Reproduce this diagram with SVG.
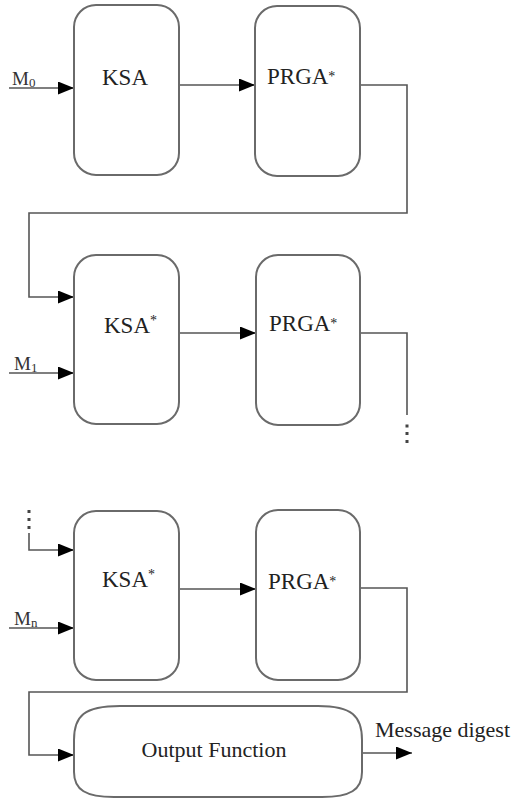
<svg xmlns="http://www.w3.org/2000/svg" width="515" height="801" viewBox="0 0 515 801">
  <defs>
    <marker id="arrow" markerUnits="userSpaceOnUse" markerWidth="17" markerHeight="14" refX="16" refY="6.5" orient="auto">
      <path d="M0,0 L16,6.5 L0,13 Z" fill="#000"/>
    </marker>
    <style>
      .box { fill: #fff; stroke: #6a6a6a; stroke-width: 2; }
      .wire { fill: none; stroke: #555; stroke-width: 1.6; }
      .arrowed { marker-end: url(#arrow); }
      .lbl { font-family: "Liberation Serif", "Times New Roman", serif; font-size: 23px; fill: #222; }
      .big { font-size: 22px; }
      .in { font-family: "Liberation Serif", "Times New Roman", serif; font-size: 19px; fill: #333; }
      .sub { font-size: 13px; }
      .sup { font-size: 14px; }
      .dot { fill: #444; }
    </style>
  </defs>
  <rect width="515" height="801" fill="#fff"/>

  <!-- connectors -->
  <g id="connectors">
    <path class="wire arrowed" d="M9,88 H74"/>
    <path class="wire arrowed" d="M179,85 H255"/>
    <path class="wire arrowed" d="M360,85 H407 V213 H29 V297 H74"/>
    <path class="wire arrowed" d="M9,373 H74"/>
    <path class="wire arrowed" d="M179,333 H256"/>
    <path class="wire" d="M360,333 H407 V415"/>
    <rect class="dot" x="405.5" y="424.5" width="3" height="3"/>
    <rect class="dot" x="405.5" y="432" width="3" height="3"/>
    <rect class="dot" x="405.5" y="440" width="3" height="3"/>
    <rect class="dot" x="27.5" y="510" width="3" height="3"/>
    <rect class="dot" x="27.5" y="518" width="3" height="3"/>
    <rect class="dot" x="27.5" y="526" width="3" height="3"/>
    <path class="wire arrowed" d="M29,533 V550 H74"/>
    <path class="wire arrowed" d="M9,628 H74"/>
    <path class="wire arrowed" d="M179,589 H256"/>
    <path class="wire arrowed" d="M360,588 H407 V692 H29 V755 H74"/>
    <path class="wire arrowed" d="M363,753 H412"/>
  </g>

  <!-- input labels -->
  <g id="inputs">
    <text class="in" x="12" y="85">M<tspan class="sub" dy="2">0</tspan></text>
    <text class="in" x="14" y="370">M<tspan class="sub" dy="2">1</tspan></text>
    <text class="in" x="14" y="625">M<tspan class="sub" dy="2">n</tspan></text>
  </g>

  <g id="ksa0">
    <rect class="box" x="74" y="5" width="105" height="170" rx="22" ry="22"/>
    <text class="lbl" x="125" y="85" text-anchor="middle">KSA</text>
  </g>
  <g id="prga0">
    <rect class="box" x="255" y="6" width="105" height="170" rx="22" ry="22"/>
    <text class="lbl" x="267" y="84">PRGA<tspan class="sup" dy="-3">*</tspan></text>
  </g>

  <g id="ksa1">
    <rect class="box" x="74" y="255" width="105" height="169" rx="22" ry="22"/>
    <text class="lbl" x="104" y="333">KSA<tspan class="sup" dy="-8">*</tspan></text>
  </g>
  <g id="prga1">
    <rect class="box" x="256" y="255" width="104" height="170" rx="22" ry="22"/>
    <text class="lbl" x="269" y="331">PRGA<tspan class="sup" dy="-3">*</tspan></text>
  </g>

  <g id="ksan">
    <rect class="box" x="74" y="511" width="105" height="169" rx="22" ry="22"/>
    <text class="lbl" x="102" y="587">KSA<tspan class="sup" dy="-8">*</tspan></text>
  </g>
  <g id="prgan">
    <rect class="box" x="256" y="510" width="104" height="170" rx="22" ry="22"/>
    <text class="lbl" x="268" y="589">PRGA<tspan class="sup" dy="-3">*</tspan></text>
  </g>

  <g id="output">
    <path class="box" d="M74,740 C74,716 84,706 120,706 L318,706 C352,706 362,716 362,740 L362,772 C362,790 350,797 322,797 L114,797 C86,797 74,790 74,772 Z"/>
    <text class="lbl big" x="214" y="757" text-anchor="middle">Output Function</text>
  </g>

  <g id="digest">
    <text class="lbl big" x="375" y="737">Message digest</text>
  </g>
</svg>
